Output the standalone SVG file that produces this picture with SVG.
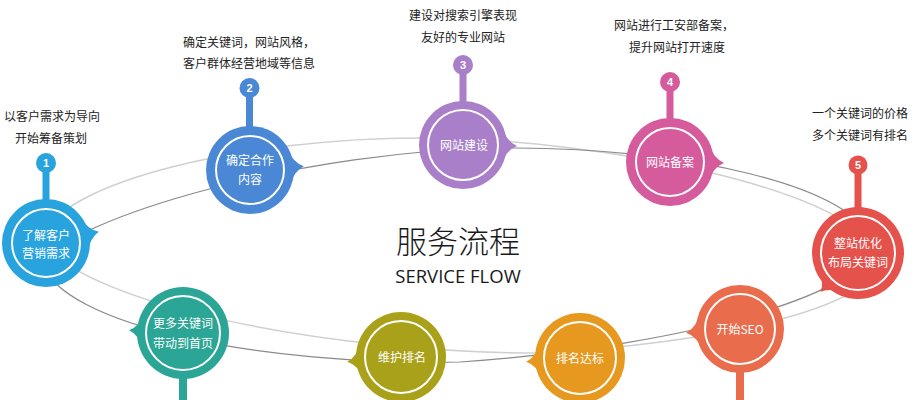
<svg xmlns="http://www.w3.org/2000/svg" xmlns:xlink="http://www.w3.org/1999/xlink" width="912" height="400" viewBox="0 0 912 400">
<style>
.lbl{font-family:"Noto Sans CJK SC","Noto Sans",sans-serif;font-size:12px;fill:#222;text-anchor:middle}
.nt{font-family:"Noto Sans CJK SC","Noto Sans",sans-serif;font-size:12px;fill:#fff;text-anchor:middle}
.num{font-family:"Liberation Sans",sans-serif;font-size:11px;font-weight:bold;fill:#fff;text-anchor:middle}
.ring{fill:none;stroke:#fff;stroke-width:2}
.c1{fill:#29a3dd}.c2{fill:#4a88d6}.c3{fill:#a97fc9}.c4{fill:#d65b9c}.c5{fill:#e5514b}
.c6{fill:#e96c4c}.c7{fill:#e6981f}.c8{fill:#aaa11a}.c9{fill:#2ba595}
</style>
<defs>
<path id="tail" d="M38,-19 Q44,-4 54,0 Q44,4 38,19 Z"/>
</defs>
<rect width="912" height="400" fill="#fff"/>
<g id="connectors" fill="none">
<path d="M40,240 C60,180 250,138 420,138 C600,138 860,190 880,258 C880,310 700,345 540,353 C330,353 85,305 40,240 Z" stroke="#cfcfcf" stroke-width="1.5"/>
<path d="M42,262 C70,220 300,148 515,148 C680,148 860,185 872,245 C870,290 700,345 460,362 C260,366 60,325 42,262 Z" stroke="#8a8a8a" stroke-width="1.2"/>
</g>
<g id="node1">
<rect x="42.5" y="163" width="7" height="40" class="c1"/>
<circle cx="46" cy="163" r="10" class="c1"/>
<text x="46" y="167" class="num">1</text>
<use xlink:href="#tail" class="c1" transform="translate(46,243) rotate(-12)"/>
<circle cx="46" cy="243" r="44" class="c1"/>
<circle cx="46" cy="243" r="34" class="ring"/>
<text x="46" y="240" class="nt">了解客户</text>
<text x="46" y="258" class="nt">营销需求</text>
<text x="52" y="121" class="lbl">以客户需求为导向</text>
<text x="51" y="143" class="lbl">开始筹备策划</text>
</g>
<g id="node2">
<rect x="246" y="88" width="7" height="46" class="c2"/>
<circle cx="249.5" cy="88" r="10" class="c2"/>
<text x="249.5" y="92" class="num">2</text>
<use xlink:href="#tail" class="c2" transform="translate(250,170) rotate(-4)"/>
<circle cx="250" cy="170" r="44" class="c2"/>
<circle cx="250" cy="170" r="34" class="ring"/>
<text x="250" y="165" class="nt">确定合作</text>
<text x="250" y="184" class="nt">内容</text>
<text x="249" y="47" class="lbl">确定关键词，网站风格，</text>
<text x="249" y="68" class="lbl">客户群体经营地域等信息</text>
</g>
<g id="node3">
<rect x="459.5" y="65" width="7" height="42" class="c3"/>
<circle cx="463" cy="65" r="10" class="c3"/>
<text x="463" y="69" class="num">3</text>
<use xlink:href="#tail" class="c3" transform="translate(463,145) rotate(1)"/>
<circle cx="463" cy="145" r="44" class="c3"/>
<circle cx="463" cy="145" r="35" class="ring"/>
<text x="464" y="150" class="nt">网站建设</text>
<text x="463" y="20" class="lbl">建设对搜索引擎表现</text>
<text x="463" y="42" class="lbl">友好的专业网站</text>
</g>
<g id="node4">
<rect x="666.5" y="82" width="7" height="42" class="c4"/>
<circle cx="670" cy="82" r="10" class="c4"/>
<text x="670" y="86" class="num">4</text>
<use xlink:href="#tail" class="c4" transform="translate(670,162) rotate(1)"/>
<circle cx="670" cy="162" r="44" class="c4"/>
<circle cx="670" cy="162" r="34" class="ring"/>
<text x="670" y="167" class="nt">网站备案</text>
<text x="674" y="30" class="lbl">网站进行工安部备案，</text>
<text x="677" y="52" class="lbl">提升网站打开速度</text>
</g>
<g id="node5">
<rect x="854.5" y="165" width="7" height="46" class="c5"/>
<circle cx="858" cy="165" r="9.5" class="c5"/>
<text x="858" y="169" class="num">5</text>
<use xlink:href="#tail" class="c5" transform="translate(858,253) rotate(134)"/>
<circle cx="858" cy="253" r="46" class="c5"/>
<circle cx="858" cy="253" r="37" class="ring"/>
<text x="858" y="248" class="nt">整站优化</text>
<text x="858" y="267" class="nt">布局关键词</text>
<text x="860" y="118" class="lbl">一个关键词的价格</text>
<text x="860" y="140" class="lbl">多个关键词有排名</text>
</g>
<g id="node6">
<rect x="736" y="365" width="8" height="35" class="c6"/>
<use xlink:href="#tail" class="c6" transform="translate(740,329) rotate(176)"/>
<circle cx="740" cy="329" r="44" class="c6"/>
<circle cx="740" cy="329" r="35" class="ring"/>
<text x="740" y="334" class="nt">开始SEO</text>
</g>
<g id="node7">
<use xlink:href="#tail" class="c7" transform="translate(580,358) rotate(176)"/>
<circle cx="580" cy="358" r="45" class="c7"/>
<circle cx="580" cy="358" r="36" class="ring"/>
<text x="580" y="363" class="nt">排名达标</text>
</g>
<g id="node8">
<use xlink:href="#tail" class="c8" transform="translate(401,357) rotate(175)"/>
<circle cx="401" cy="357" r="45" class="c8"/>
<circle cx="401" cy="357" r="36" class="ring"/>
<text x="402" y="362" class="nt">维护排名</text>
</g>
<g id="node9">
<rect x="179" y="370" width="8" height="30" class="c9"/>
<use xlink:href="#tail" class="c9" transform="translate(183,333) rotate(183)"/>
<circle cx="183" cy="333" r="46" class="c9"/>
<circle cx="183" cy="333" r="37" class="ring"/>
<text x="183" y="328" class="nt">更多关键词</text>
<text x="183" y="348" class="nt">带动到首页</text>
</g>
<g id="title">
<text x="458" y="253" font-family="Noto Sans CJK SC,sans-serif" font-size="31" font-weight="300" fill="#1a1a1a" text-anchor="middle">服务流程</text>
<text x="458" y="283" font-family="Open Sans,Noto Sans,sans-serif" font-size="18.5" fill="#1a1a1a" text-anchor="middle">SERVICE FLOW</text>
</g>
</svg>
